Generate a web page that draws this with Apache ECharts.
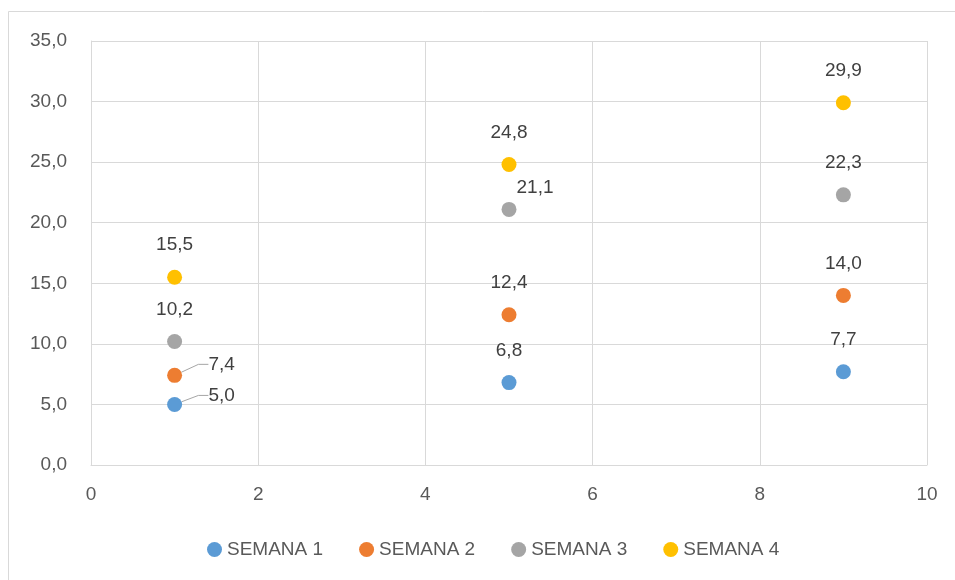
<!DOCTYPE html>
<html>
<head>
<meta charset="utf-8">
<script src="https://cdn.jsdelivr.net/npm/echarts@6/dist/echarts.min.js"></script>
<style>
  body { margin: 0; background: #fff; }
</style>
</head>
<body>
<div id="chart" style="width: 955px; height: 580px"></div>
<script>
var seriesNames = ['SEMANA 1', 'SEMANA 2', 'SEMANA 3', 'SEMANA 4'];
var xValues = [1, 5, 9];
var semana1 = [5.0, 6.8, 7.7];
var semana2 = [7.4, 12.4, 14.0];
var semana3 = [10.2, 21.1, 22.3];
var semana4 = [15.5, 24.8, 29.9];
var colors = ['#5B9BD5', '#ED7D31', '#A5A5A5', '#FFC000'];

// labels Excel moved away from the point (series index -> data index -> shift)
var movedLabels = {
  0: { 0: { dx: 47, dy: 23, line: true } },
  1: { 0: { dx: 47, dy: 21, line: true } },
  2: { 1: { dx: 26, dy: 10, line: false } }
};

var fontFam = '"Liberation Sans", Arial, sans-serif';

function fmt(v) {
  return v.toFixed(1).replace('.', ',');
}

function buildSeries(name, values, idx) {
  var moved = movedLabels[idx] || {};
  return {
    name: name,
    type: 'scatter',
    symbol: 'circle',
    symbolSize: 15,
    itemStyle: { color: colors[idx], opacity: 1 },
    label: {
      show: true,
      position: 'top',
      distance: 15,
      color: '#404040',
      fontSize: 19,
      fontFamily: fontFam,
      formatter: function (p) { return fmt(p.value[1]); }
    },
    labelLine: {
      show: false,
      lineStyle: { color: '#A6A6A6', width: 1 }
    },
    labelLayout: function (params) {
      var m = moved[params.dataIndex];
      if (m) return { dx: m.dx, dy: m.dy };
      return {};
    },
    data: values.map(function (v, i) {
      var item = { value: [xValues[i], v] };
      if (moved[i] && moved[i].line) {
        item.labelLine = { show: true, length2: 10, smooth: false, lineStyle: { color: '#A6A6A6', width: 1 } };
      }
      return item;
    })
  };
}

var chart = echarts.init(document.getElementById('chart'));
var option = {
  animation: false,
  backgroundColor: '#fff',
  graphic: [{
    type: 'rect',
    shape: { x: 8.5, y: 11.5, width: 1000, height: 1000 },
    style: { fill: 'none', stroke: '#D9D9D9', lineWidth: 1 },
    silent: true
  }],
  grid: { left: 91, right: 28, top: 41, bottom: 115 },
  legend: {
    data: seriesNames,
    bottom: 16,
    left: 202,
    icon: 'circle',
    itemWidth: 15,
    itemHeight: 15,
    itemGap: 36,
    textStyle: { color: '#595959', fontSize: 19, fontFamily: fontFam }
  },
  xAxis: {
    type: 'value',
    min: 0,
    max: 10,
    interval: 2,
    axisLine: { show: true, lineStyle: { color: '#D9D9D9' } },
    axisTick: { show: false },
    splitLine: { show: true, lineStyle: { color: '#D9D9D9' } },
    axisLabel: { color: '#595959', fontSize: 19, fontFamily: fontFam, margin: 20 }
  },
  yAxis: {
    type: 'value',
    min: 0,
    max: 35,
    interval: 5,
    axisLine: { show: true, lineStyle: { color: '#D9D9D9' } },
    axisTick: { show: false },
    splitLine: { show: true, lineStyle: { color: '#D9D9D9' } },
    axisLabel: {
      color: '#595959', fontSize: 19, fontFamily: fontFam, margin: 24,
      formatter: function (v) { return fmt(v); }
    }
  },
  series: [
    buildSeries(seriesNames[0], semana1, 0),
    buildSeries(seriesNames[1], semana2, 1),
    buildSeries(seriesNames[2], semana3, 2),
    buildSeries(seriesNames[3], semana4, 3)
  ]
};
chart.setOption(option);
</script>
</body>
</html>
